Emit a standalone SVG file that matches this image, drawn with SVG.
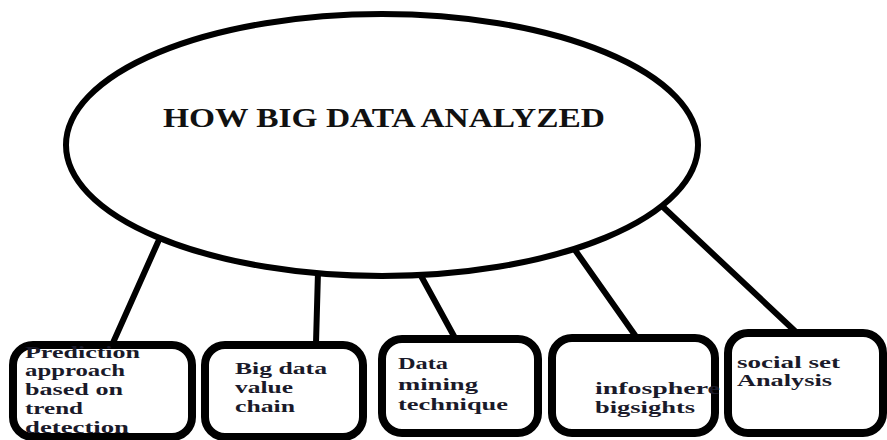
<svg xmlns="http://www.w3.org/2000/svg" width="887" height="440" viewBox="0 0 887 440">
<style>
.box{fill:#fff;stroke:#000;stroke-width:8}
.conn{stroke:#000;stroke-width:6;stroke-linecap:round;fill:none}
.t{font-family:"Liberation Serif","Times New Roman",serif;font-weight:bold;font-size:17px;fill:#1a1a2a}
.title{font-family:"Liberation Serif","Times New Roman",serif;font-weight:bold;font-size:28px;fill:#111}
</style>
<rect x="0" y="0" width="887" height="440" fill="#fff"/>
<g id="connectors">
<line class="conn" x1="158" y1="242" x2="112" y2="345"/>
<line class="conn" x1="318" y1="272" x2="316" y2="343"/>
<line class="conn" x1="420" y1="274" x2="455" y2="338"/>
<line class="conn" x1="575" y1="250" x2="637" y2="338"/>
<line class="conn" x1="662" y1="206" x2="797" y2="333"/>
</g>
<g id="center">
<ellipse cx="382" cy="145" rx="316" ry="131" fill="#fff" stroke="#000" stroke-width="6"/>
<text class="title" x="163" y="127" textLength="442" lengthAdjust="spacingAndGlyphs">HOW BIG DATA ANALYZED</text>
</g>
<g id="n1">
<rect class="box" x="13" y="345" width="179" height="92" rx="20"/>
<text class="t" x="25" y="358" textLength="115" lengthAdjust="spacingAndGlyphs">Prediction</text>
<text class="t" x="25" y="376" textLength="100" lengthAdjust="spacingAndGlyphs">approach</text>
<text class="t" x="25" y="395" textLength="98" lengthAdjust="spacingAndGlyphs">based on</text>
<text class="t" x="25" y="414" textLength="58" lengthAdjust="spacingAndGlyphs">trend</text>
<text class="t" x="25" y="433" textLength="104" lengthAdjust="spacingAndGlyphs">detection</text>
</g>
<g id="n2">
<rect class="box" x="205" y="345" width="158" height="92" rx="20"/>
<text class="t" x="235" y="374" textLength="92" lengthAdjust="spacingAndGlyphs">Big data</text>
<text class="t" x="235" y="393" textLength="58" lengthAdjust="spacingAndGlyphs">value</text>
<text class="t" x="235" y="412" textLength="60" lengthAdjust="spacingAndGlyphs">chain</text>
</g>
<g id="n3">
<rect class="box" x="382" y="339" width="156" height="94" rx="20"/>
<text class="t" x="398" y="369" textLength="50" lengthAdjust="spacingAndGlyphs">Data</text>
<text class="t" x="398" y="390" textLength="80" lengthAdjust="spacingAndGlyphs">mining</text>
<text class="t" x="398" y="410" textLength="110" lengthAdjust="spacingAndGlyphs">technique</text>
</g>
<g id="n4">
<rect class="box" x="552" y="338" width="163" height="95" rx="20"/>
<text class="t" x="595" y="394" textLength="125" lengthAdjust="spacingAndGlyphs">infosphere</text>
<text class="t" x="595" y="413" textLength="100" lengthAdjust="spacingAndGlyphs">bigsights</text>
</g>
<g id="n5">
<rect class="box" x="728" y="333" width="155" height="100" rx="20"/>
<text class="t" x="737" y="368" textLength="103" lengthAdjust="spacingAndGlyphs">social set</text>
<text class="t" x="737" y="386" textLength="95" lengthAdjust="spacingAndGlyphs">Analysis</text>
</g>
</svg>
